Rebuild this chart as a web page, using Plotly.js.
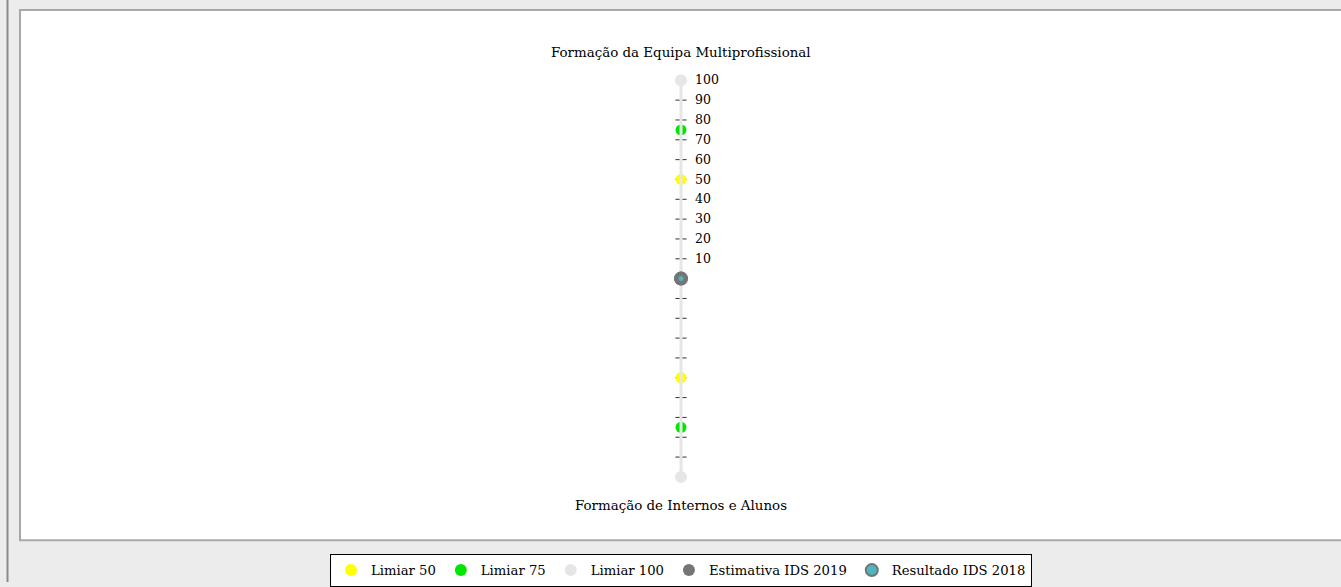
<!DOCTYPE html>
<html>
<head>
<meta charset="utf-8">
<script src="https://cdn.plot.ly/plotly-3.0.1.min.js"></script>
<style>
html,body{margin:0;padding:0;background:#ececec;}
#chart{width:1341px;height:587px;}
</style>
</head>
<body>
<div id="chart"></div>
<script>
// ---- data ----
const categories = ["Formação da Equipa Multiprofissional", "Formação de Internos e Alunos"];
const limiar50 = [50, 50];
const limiar75 = [75, 75];
const limiar100 = [100, 100];
const estimativa2019 = [0, 0];
const resultado2018 = [0, 0];
const radialTicks = [10, 20, 30, 40, 50, 60, 70, 80, 90, 100];
const radialTickText = ["10", "20", "30", "40", "50", "60", "70", "80", "90", "100"];
const gridLevels = [10, 20, 30, 40, 50, 60, 70, 80, 90];

const FONT = "DejaVu Serif";

// grid level marks on both spokes
const markR = [], markT = [];
categories.forEach(c => gridLevels.forEach(v => { markR.push(v); markT.push(c); }));

const traces = [
  {type: "scatterpolar", r: markR, theta: markT, mode: "markers", showlegend: false, hoverinfo: "skip",
   marker: {symbol: "line-ew", size: 8, color: "#333", line: {color: "#333", width: 1}}},
  {type: "scatterpolar", name: "Limiar 50", r: limiar50, theta: categories, mode: "markers",
   marker: {size: 11, color: "#ffff00"}},
  {type: "scatterpolar", name: "Limiar 75", r: limiar75, theta: categories, mode: "markers",
   marker: {size: 11, color: "#00e600"}},
  {type: "scatterpolar", name: "Limiar 100", r: limiar100, theta: categories, mode: "markers",
   marker: {size: 12, color: "#e6e6e6"}},
  {type: "scatterpolar", r: limiar100, theta: categories, mode: "lines", showlegend: false, hoverinfo: "skip",
   line: {color: "#e6e6e6", width: 3}},
  {type: "scatterpolar", name: "Estimativa IDS 2019", r: estimativa2019, theta: categories, mode: "markers",
   marker: {size: 14, color: "#757575"}},
  {type: "scatterpolar", name: "Resultado IDS 2018", r: resultado2018, theta: categories, mode: "markers",
   marker: {size: 6, color: "#4db6bf", line: {color: "#757575", width: 1}}}
];

const W = 1341, H = 587;
const cx = 681, cy = 281, R = 200;

const layout = {
  width: W, height: H,
  margin: {l: 0, r: 0, t: 0, b: 0},
  paper_bgcolor: "#ececec",
  font: {family: FONT, size: 12, color: "#000"},
  showlegend: true,
  legend: {
    orientation: "h", x: cx / W, xanchor: "center", y: 1 - 559 / H, yanchor: "top",
    bgcolor: "#ffffff", bordercolor: "#000", borderwidth: 1,
    font: {family: FONT, size: 13.2, color: "#000"}, itemsizing: "constant",
    itemwidth: 30, tracegroupgap: 0
  },
  polar: {
    domain: {x: [(cx - R) / W, (cx + R) / W], y: [1 - (cy + R) / H, 1 - (cy - R) / H]},
    bgcolor: "rgba(0,0,0,0)",
    radialaxis: {
      range: [0, 100], angle: 90, tickvals: radialTicks, ticktext: radialTickText,
      showline: false, showgrid: false, ticks: "outside", ticklen: 11, tickcolor: "rgba(0,0,0,0)",
      tickangle: 90, side: "clockwise",
      tickfont: {family: FONT, size: 12.5, color: "#000"}
    },
    angularaxis: {
      type: "category", categoryarray: categories, rotation: 90, direction: "clockwise",
      showline: false, showgrid: false, ticks: "", showticklabels: false
    }
  },
  annotations: [
    {text: categories[0], xref: "paper", yref: "paper", x: cx / W, y: 1 - 53 / H,
     xanchor: "center", yanchor: "middle", showarrow: false, font: {family: FONT, size: 13.4, color: "#000"}},
    {text: categories[1], xref: "paper", yref: "paper", x: cx / W, y: 1 - 510 / H,
     xanchor: "center", yanchor: "middle", showarrow: false, font: {family: FONT, size: 13.4, color: "#000"}}
  ],
  shapes: [
    {type: "rect", xref: "paper", yref: "paper", layer: "below",
     x0: 20 / W, x1: 1.01, y0: 1 - 545 / H, y1: 1 - 10 / H,
     fillcolor: "#ffffff", line: {color: "#a8a8a8", width: 2}},
    {type: "line", xref: "paper", yref: "paper", layer: "below",
     x0: 7.5 / W, x1: 7.5 / W, y0: 0, y1: 1, line: {color: "#8a8a8a", width: 2}}
  ]
};

Plotly.newPlot("chart", traces, layout, {displayModeBar: false, staticPlot: true});
</script>
</body>
</html>
